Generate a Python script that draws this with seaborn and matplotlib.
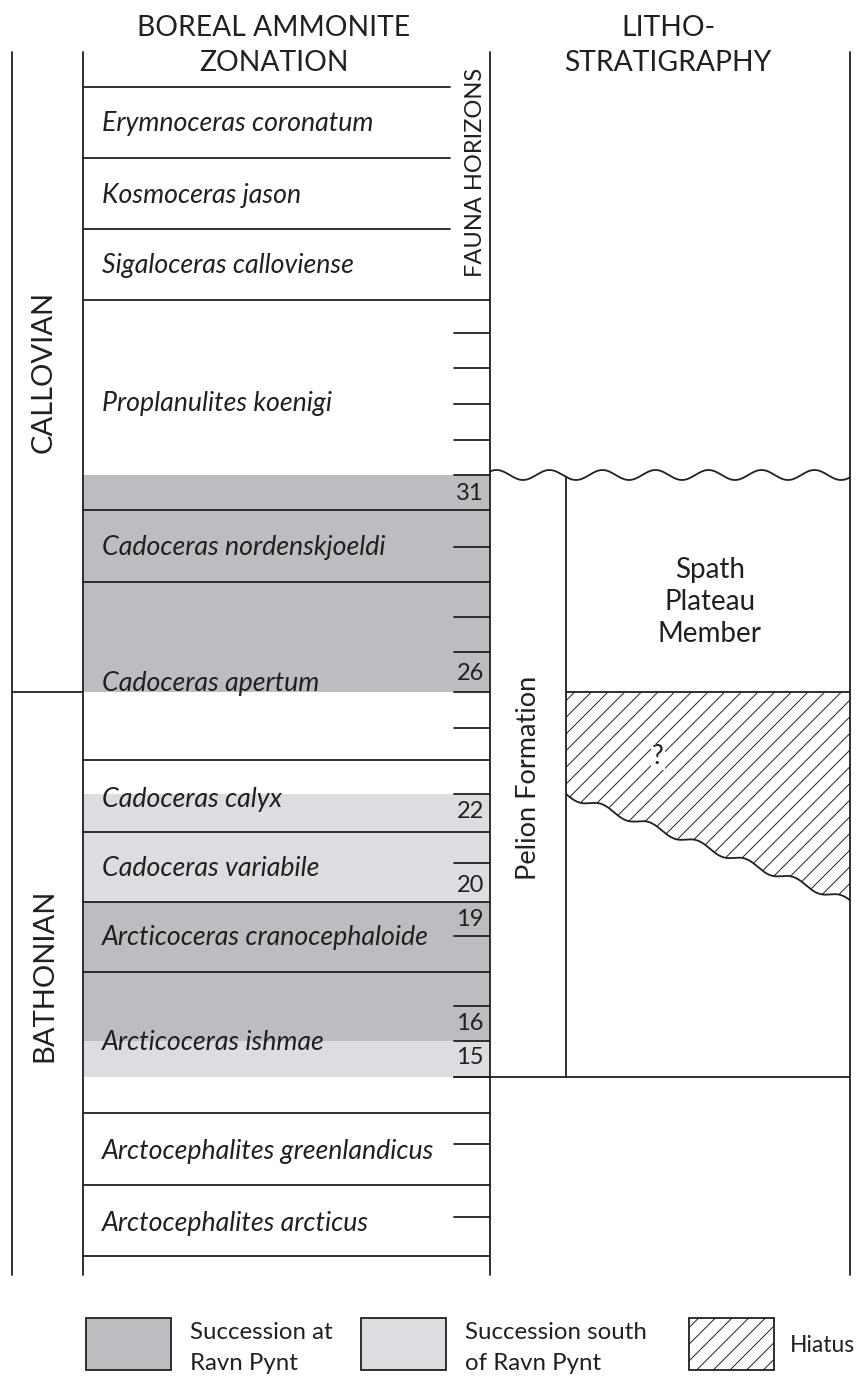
import numpy as np
import pandas as pd
import seaborn as sns
import matplotlib.pyplot as plt
from matplotlib.patches import Rectangle, Polygon

# chart data (positions are in the diagram's own vertical scale, top = 0)
zone_names = ['Erymnoceras coronatum', 'Kosmoceras jason', 'Sigaloceras calloviense',
              'Proplanulites koenigi', 'Cadoceras nordenskjoeldi', 'Cadoceras apertum',
              'Cadoceras calyx', 'Cadoceras variabile', 'Arcticoceras cranocephaloide',
              'Arcticoceras ishmae', 'Arctocephalites greenlandicus', 'Arctocephalites arcticus']
zone_bounds = [87, 158, 229, 300, 510, 582, 760, 832, 902, 972, 1113, 1185, 1256]
zone_label_y = [123, 195, 265, 404, 547, 683, 800, 868, 938, 1042, 1152, 1223]
horizon_ticks = [333, 368, 404, 440, 475, 547, 617, 652, 692, 728, 794, 863,
                 936, 1006, 1041, 1077, 1144, 1217]
horizon_nums = ['31', '26', '22', '20', '19', '16', '15']
horizon_num_y = [493, 673, 812, 886, 919, 1023, 1058]
ravn_pynt = [(475, 692), (902, 1041)]        # dark grey
south_ravn = [(794, 902), (1041, 1077)]      # light grey
stages = ['CALLOVIAN', 'BATHONIAN']
stage_label_y = [372, 975]
stage_bounds = [52, 692, 1275]
hiatus_top, hiatus_base_left, hiatus_base_right = 692, 794, 902
unconformity = 475
pelion_base = 1077

dark = '#bcbdc0'
light = '#dcdde0'
ink = '#231f20'
lw = 1.3

sns.set_theme(style='white')
plt.rcParams['font.family'] = ['Lato', 'DejaVu Sans']
plt.rcParams['hatch.linewidth'] = 0.7
plt.rcParams['hatch.color'] = ink

fig = plt.figure(figsize=(8.57, 13.8), dpi=100)
ax = fig.add_axes([0, 0, 1, 1])
ax.set_xlim(0, 857)
ax.set_ylim(1380, 0)
ax.axis('off')

xl, xz, xr, xp, xe = 12, 83, 490, 566, 850   # column edges
xt = 454

# grey bands
for a, b in ravn_pynt:
    ax.add_patch(Rectangle((xz, a), xr - xz, b - a, fc=dark, ec='none', zorder=1))
for a, b in south_ravn:
    ax.add_patch(Rectangle((xz, a), xr - xz, b - a, fc=light, ec='none', zorder=1))

# column verticals
for x in [xl, xz, xr, xe]:
    ax.plot([x, x], [stage_bounds[0], stage_bounds[-1]], color=ink, lw=lw, zorder=3)

# zone boundaries
for y in zone_bounds:
    x2 = 450 if y < 300 else xr
    ax.plot([xz, x2], [y, y], color=ink, lw=lw, zorder=3)
for name, y in zip(zone_names, zone_label_y):
    ax.text(102, y, name, style='italic', fontsize=19.3, color=ink, va='center', ha='left', zorder=4)

# fauna horizons
for y in horizon_ticks:
    ax.plot([xt, xr], [y, y], color=ink, lw=lw, zorder=3)
for n, y in zip(horizon_nums, horizon_num_y):
    ax.text(484, y, n, fontsize=17, color=ink, ha='right', va='center', zorder=4)
ax.text(476, 172, 'FAUNA HORIZONS', rotation=90, fontsize=17, color=ink,
        ha='center', va='center')

# stages
ax.plot([xl, xz], [stage_bounds[1]] * 2, color=ink, lw=lw)
for s, yc in zip(stages, stage_label_y):
    ax.text(44, yc, s, rotation=90, fontsize=21, color=ink, ha='center', va='center')

# headers
ax.text(274, 28, 'BOREAL AMMONITE', fontsize=20.3, color=ink, ha='center', va='center')
ax.text(274, 63, 'ZONATION', fontsize=20.3, color=ink, ha='center', va='center')
ax.text(668, 28, 'LITHO-', fontsize=20.3, color=ink, ha='center', va='center')
ax.text(668, 63, 'STRATIGRAPHY', fontsize=20.3, color=ink, ha='center', va='center')

# lithostratigraphy
wx = np.linspace(xr, xe, 400)
wy = unconformity + 5 * np.cos(2 * np.pi * (wx - 523) / 53)
sns.lineplot(x=wx, y=wy, sort=False, estimator=None, color=ink, lw=lw, ax=ax)
ax.plot([xp, xp], [unconformity + 5 * np.cos(2 * np.pi * (xp - 523) / 53), pelion_base],
        color=ink, lw=lw)
ax.plot([xt, xe], [pelion_base] * 2, color=ink, lw=lw)
ax.plot([xp, xe], [hiatus_top] * 2, color=ink, lw=lw)
ax.text(529, 778, 'Pelion Formation', rotation=90, fontsize=19.5, color=ink,
        ha='center', va='center')
ax.text(710, 602, 'Spath\nPlateau\nMember', fontsize=20, color=ink, ha='center',
        va='center', linespacing=1.3)

# hiatus with scalloped base
hx = np.linspace(xp, xe, 400)
slope = (hiatus_base_right - hiatus_base_left) / (xe - xp)
hy = hiatus_base_left + slope * (hx - xp) + 3.5 * np.sin(2 * np.pi * (hx - xp) / 48)
poly = np.vstack([np.column_stack([hx, hy]), [[xe, hiatus_top], [xp, hiatus_top]]])
ax.add_patch(Polygon(poly, closed=True, fc='none', ec=ink, lw=0, hatch='//', zorder=1))
sns.lineplot(x=hx, y=hy, sort=False, estimator=None, color=ink, lw=lw, ax=ax)
ax.text(658, 757, '?', fontsize=19, color=ink, ha='center', va='center', zorder=4,
        bbox=dict(fc='white', ec='none', pad=0.5))

# legend
leg_labels = ['Succession at\nRavn Pynt', 'Succession south\nof Ravn Pynt', 'Hiatus']
leg_x = [86, 361, 689]
for lab, x0, i in zip(leg_labels, leg_x, range(3)):
    if i == 2:
        ax.add_patch(Rectangle((x0, 1318), 85, 52, fc='white', ec=ink, lw=lw, hatch='//'))
        ax.text(x0 + 101, 1346, lab, fontsize=16.5, color=ink, ha='left', va='center')
    else:
        ax.add_patch(Rectangle((x0, 1318), 85, 52, fc=[dark, light][i], ec=ink, lw=lw))
        ax.text(x0 + 104, 1348, lab, fontsize=17.3, color=ink, ha='left', va='center',
                linespacing=1.55)

fig.savefig('out.png', dpi=100, facecolor='white')
